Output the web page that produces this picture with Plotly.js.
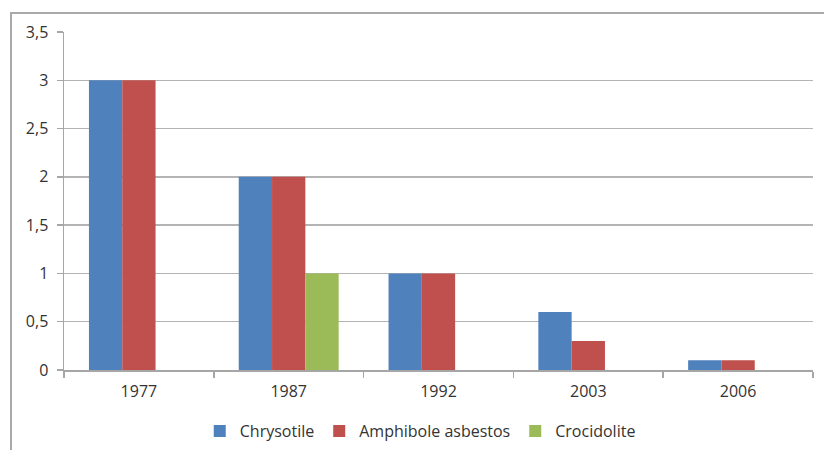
<!DOCTYPE html>
<html>
<head>
<meta charset="utf-8">
<script src="https://cdn.plot.ly/plotly-3.0.1.min.js"></script>
<style>
  html, body { margin: 0; padding: 0; background: #fff; }
  #frame { position: absolute; left: 10px; top: 12px; width: 900px; height: 500px; border: 2px solid #a9a9a9; box-sizing: border-box; }
  #chart { position: absolute; left: 0; top: 0; width: 824px; height: 450px; }
</style>
</head>
<body>
<div id="frame"></div>
<div id="chart"></div>
<script>
const years = ['1977', '1987', '1992', '2003', '2006'];
const chrysotile = [3, 2, 1, 0.6, 0.1];
const amphibole = [3, 2, 1, 0.3, 0.1];
const crocidolite = [null, 1, null, null, null];
const yTicks = [0, 0.5, 1, 1.5, 2, 2.5, 3, 3.5];

const font = { family: '"Open Sans", Lato, sans-serif', size: 16, color: '#333333' };

const traces = [
  { type: 'bar', name: 'Chrysotile', x: years, y: chrysotile, marker: { color: '#4F81BD' } },
  { type: 'bar', name: 'Amphibole asbestos', x: years, y: amphibole, marker: { color: '#C0504D' } },
  { type: 'bar', name: 'Crocidolite', x: years, y: crocidolite, marker: { color: '#9BBB59' } }
];

const layout = {
  width: 824, height: 450,
  margin: { l: 64, r: 11, t: 32, b: 80 },
  paper_bgcolor: 'rgba(0,0,0,0)',
  plot_bgcolor: '#fff',
  separators: ', ',
  barmode: 'group',
  bargap: 0.333,
  bargroupgap: 0,
  font: font,
  showlegend: true,
  legend: {
    orientation: 'h', xref: 'container', yref: 'container',
    x: 0.51, xanchor: 'center', y: 0.042, yanchor: 'middle',
    font: font, itemwidth: 30, traceorder: 'normal'
  },
  xaxis: {
    type: 'category',
    showline: true, linecolor: '#a6a6a6', linewidth: 1.5,
    ticks: 'outside', tickson: 'boundaries', ticklen: 6, tickcolor: '#a6a6a6', tickwidth: 1.5,
    ticklabelstandoff: 6,
    showgrid: false, zeroline: false,
    tickfont: font
  },
  yaxis: {
    range: [0, 3.5],
    tickvals: yTicks,
    tickformat: '.1~f',
    showline: true, linecolor: '#a6a6a6', linewidth: 1.5,
    ticks: 'outside', ticklen: 6, tickcolor: '#a6a6a6', tickwidth: 1.5,
    ticklabelstandoff: 5,
    showgrid: true, gridcolor: '#b4b4b4', gridwidth: 1.5,
    zeroline: false,
    tickfont: font
  }
};

Plotly.newPlot('chart', traces, layout, { displayModeBar: false, staticPlot: true });
</script>
</body>
</html>
